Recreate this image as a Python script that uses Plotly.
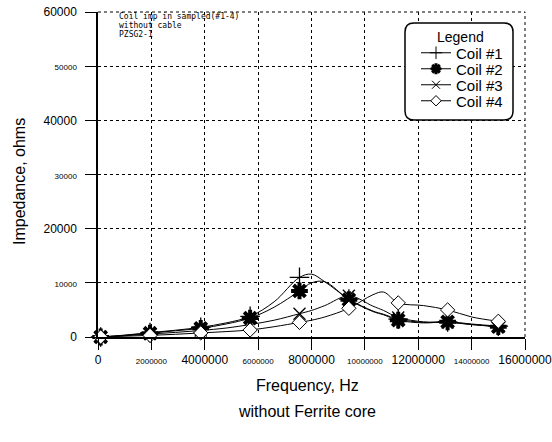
import plotly.graph_objects as go

# ---------------- data ----------------
freq_mhz = [0.1, 1.0, 1.95, 2.9, 3.85, 4.8, 5.7, 6.6, 7.55, 8.0, 8.5, 9.4,
            10.3, 10.7, 11.25, 12.2, 13.1, 14.0, 15.0]
marker_idx = [0, 2, 4, 6, 8, 11, 14, 16, 18]

coil1 = [0, 350, 800, 1250, 1800, 2600, 3800, 6500, 11000, 11600, 10200, 7000,
         4800, 4200, 3300, 2700, 2800, 2400, 2000]
coil2 = [0, 300, 700, 1150, 1600, 2400, 3500, 5500, 8500, 10000, 10200, 6900,
         4700, 4100, 3100, 2600, 2800, 2300, 1900]
coil3 = [0, 250, 550, 850, 1200, 1650, 2300, 3100, 4300, 4900, 5800, 7600,
         5700, 4900, 3600, 2800, 2700, 2300, 1900]
coil4 = [0, 150, 300, 500, 750, 1000, 1300, 1900, 2700, 3100, 3700, 5300,
         7800, 8300, 6300, 5800, 5000, 3700, 2900]

series_names = ["Coil #1", "Coil #2", "Coil #3", "Coil #4"]

x_tick_vals = [0, 2000000, 4000000, 6000000, 8000000, 10000000, 12000000, 14000000, 16000000]
y_tick_vals = [0, 10000, 20000, 30000, 40000, 50000, 60000]

note_lines = ["Coil imp in sampled(#1-4)", "without cable", "PZSG2-1"]

# ---------------- figure ----------------
W, H = 552, 442
PL, PR, PT, PB = 98, 525, 12, 337   # plot area in pixels
L, T, R, B = PL, PT, W - PR, H - PB
PW, PH = PR - PL, PB - PT

def px_x(p):
    return (p - PL) / PW

def px_y(p):
    return (PB - p) / PH

freq_hz = [f * 1e6 for f in freq_mhz]

markers = [
    dict(symbol="cross-thin", size=14, color="black", line=dict(color="black", width=1.3)),
    dict(symbol="asterisk", size=14, color="black", line=dict(color="black", width=4)),
    dict(symbol="x-thin", size=12, color="black", line=dict(color="black", width=1.3)),
    dict(symbol="diamond", size=11, color="white", line=dict(color="black", width=1)),
]
legend_markers = [
    dict(symbol="cross-thin", size=9, color="black", line=dict(color="black", width=1)),
    dict(symbol="asterisk", size=9, color="black", line=dict(color="black", width=3)),
    dict(symbol="x-thin", size=8, color="black", line=dict(color="black", width=1)),
    dict(symbol="diamond", size=8, color="white", line=dict(color="black", width=1)),
]

fig = go.Figure()
for name, vals in zip(series_names, [coil1, coil2, coil3, coil4]):
    fig.add_trace(go.Scatter(
        x=freq_hz, y=vals, mode="lines",
        line=dict(color="black", width=1, shape="spline", smoothing=1.0),
        showlegend=False, hoverinfo="skip", cliponaxis=False,
    ))
for name, vals, mk in zip(series_names, [coil1, coil2, coil3, coil4], markers):
    fig.add_trace(go.Scatter(
        x=[freq_hz[i] for i in marker_idx], y=[vals[i] for i in marker_idx],
        mode="markers", marker=mk, showlegend=False, cliponaxis=False, name=name,
    ))
legend_ids = ["legend", "legend2", "legend3", "legend4"]
for name, mk, lid in zip(series_names, legend_markers, legend_ids):
    fig.add_trace(go.Scatter(
        x=[None], y=[None], mode="lines+markers", name=name, legend=lid,
        line=dict(color="black", width=1), marker=mk,
    ))

def lbl(v, big):
    s = "%d" % v
    size = 12 if big else 8
    return '<span style="font-size:%dpx">%s</span>' % (size, s)

x_tick_text = [lbl(v, i % 2 == 0) for i, v in enumerate(x_tick_vals)]
y_tick_text = [lbl(v, i % 2 == 0) for i, v in enumerate(y_tick_vals)]

axis_common = dict(
    showline=True, linecolor="black", linewidth=1.5, automargin=False,
    ticks="outside", ticklen=11, tickcolor="black", tickwidth=1.2,
    showgrid=True, gridcolor="black", gridwidth=1, griddash="dot",
    zeroline=False, ticklabeloverflow="allow",
    tickfont=dict(family="Liberation Sans", size=12, color="black"),
)

fig.update_xaxes(range=[0, 16000000], tickmode="array", tickvals=x_tick_vals,
                 ticktext=x_tick_text, **axis_common)
fig.update_yaxes(range=[0, 60000], tickmode="array", tickvals=y_tick_vals,
                 ticktext=y_tick_text, ticklabelstandoff=6, **axis_common)

# dotted frame lines at the top and right edges of the plot
fig.add_shape(type="line", xref="paper", yref="paper", x0=0, x1=1, y0=1, y1=1,
              line=dict(color="black", width=1, dash="dot"), layer="below")
fig.add_shape(type="line", xref="paper", yref="paper", x0=1, x1=1, y0=0, y1=1,
              line=dict(color="black", width=1, dash="dot"), layer="below")

# rounded legend box
bx0, bx1, by0, by1, r = 405, 513, 23, 120, 9
path = (f"M {px_x(bx0 + r)} {px_y(by0)} L {px_x(bx1 - r)} {px_y(by0)} "
        f"Q {px_x(bx1)} {px_y(by0)} {px_x(bx1)} {px_y(by0 + r)} "
        f"L {px_x(bx1)} {px_y(by1 - r)} "
        f"Q {px_x(bx1)} {px_y(by1)} {px_x(bx1 - r)} {px_y(by1)} "
        f"L {px_x(bx0 + r)} {px_y(by1)} "
        f"Q {px_x(bx0)} {px_y(by1)} {px_x(bx0)} {px_y(by1 - r)} "
        f"L {px_x(bx0)} {px_y(by0 + r)} "
        f"Q {px_x(bx0)} {px_y(by0)} {px_x(bx0 + r)} {px_y(by0)} Z")
fig.add_shape(type="path", path=path, xref="paper", yref="paper",
              line=dict(color="black", width=1.5), fillcolor="white", layer="above")

annotations = []
for i, t in enumerate(note_lines):
    annotations.append(dict(
        text=t, x=px_x(117), y=px_y(17 + 8.5 * i), xref="paper", yref="paper",
        xanchor="left", yanchor="middle", showarrow=False,
        font=dict(family="DejaVu Sans Mono", size=8, color="black"),
    ))
annotations.append(dict(
    text="Legend", x=px_x(460), y=px_y(37), xref="paper", yref="paper",
    showarrow=False, xanchor="center", yanchor="middle",
    font=dict(family="Liberation Sans", size=14, color="black"),
))
annotations.append(dict(
    text="Impedance, ohms", x=px_x(20), y=px_y(182), xref="paper", yref="paper",
    textangle=-90, showarrow=False, xanchor="center", yanchor="middle",
    font=dict(family="Liberation Sans", size=16, color="black"),
))
annotations.append(dict(
    text="Frequency, Hz", x=px_x(307), y=px_y(385), xref="paper", yref="paper",
    showarrow=False, xanchor="center", yanchor="middle",
    font=dict(family="Liberation Sans", size=16, color="black"),
))
annotations.append(dict(
    text="without Ferrite core", x=px_x(307), y=px_y(411), xref="paper", yref="paper",
    showarrow=False, xanchor="center", yanchor="middle",
    font=dict(family="Liberation Sans", size=16, color="black"),
))

legend_y_px = [53, 69, 85, 101]
layout_legends = {}
for lid, ypx in zip(legend_ids, legend_y_px):
    layout_legends[lid] = dict(
        x=px_x(416), y=px_y(ypx), xanchor="left", yanchor="middle",
        bgcolor="rgba(0,0,0,0)", borderwidth=0,
        font=dict(family="Liberation Sans", size=15, color="black"),
        itemwidth=30,
    )

fig.update_layout(
    width=W, height=H,
    margin=dict(l=L, r=R, t=T, b=B, pad=0, autoexpand=False),
    paper_bgcolor="white", plot_bgcolor="white",
    annotations=annotations,
    showlegend=True,
    **layout_legends,
)

fig.write_html(
    "out.html",
    config={"displayModeBar": False},
    post_script="document.body.style.margin='0';",
)
